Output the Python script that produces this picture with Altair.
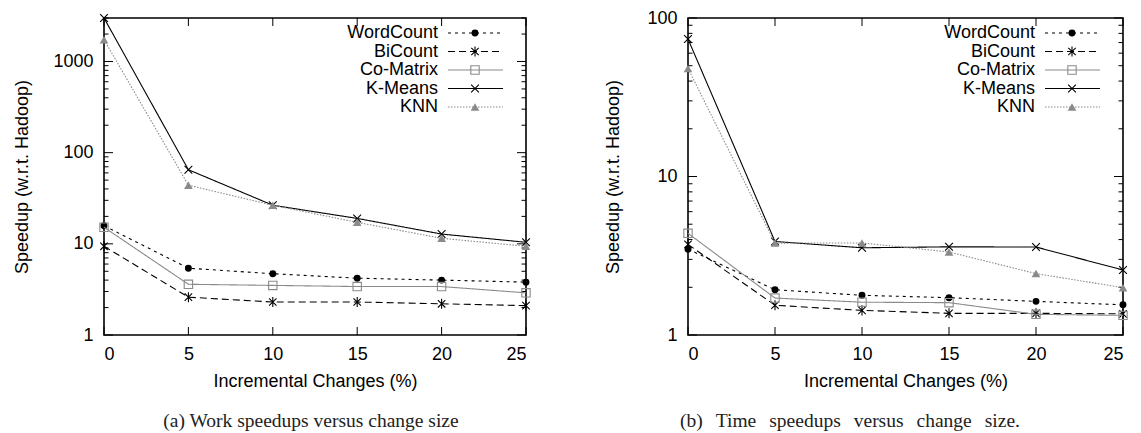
import altair as alt
import pandas as pd

# ---------------- data ----------------
x_vals = [0, 5, 10, 15, 20, 25]
series = ["WordCount", "BiCount", "Co-Matrix", "K-Means", "KNN"]

work_wordcount = [15.8, 5.4, 4.7, 4.2, 4.0, 3.8]
work_bicount = [9.4, 2.6, 2.3, 2.3, 2.2, 2.1]
work_comatrix = [15.2, 3.6, 3.5, 3.4, 3.4, 2.9]
work_kmeans = [3000, 65, 26.5, 19, 12.8, 10.4]
work_knn = [1735, 44, 26.5, 17.2, 11.5, 9.4]

time_wordcount = [3.48, 1.93, 1.78, 1.72, 1.63, 1.55]
time_bicount = [3.73, 1.54, 1.43, 1.37, 1.37, 1.36]
time_comatrix = [4.38, 1.71, 1.61, 1.60, 1.35, 1.33]
time_kmeans = [73.7, 3.89, 3.55, 3.6, 3.59, 2.57]
time_knn = [48.1, 3.8, 3.81, 3.34, 2.44, 1.99]

x_tick_labels = [0, 5, 10, 15, 20, 25]
work_major = [1, 10, 100, 1000]
work_minor = [2, 3, 4, 5, 6, 7, 8, 9, 20, 30, 40, 50, 60, 70, 80, 90,
              200, 300, 400, 500, 600, 700, 800, 900, 2000, 3000]
time_major = [1, 10, 100]
time_minor = [2, 3, 4, 5, 6, 7, 8, 9, 20, 30, 40, 50, 60, 70, 80, 90]

SP = "\u2004\u2004"
caption_a = "(a) Work speedups versus change size"
caption_b = SP.join(["(b)", "Time", "speedups", "versus", "change", "size."])
x_title = "Incremental Changes (%)"
y_title = "Speedup (w.r.t. Hadoop)"

# ---------------- styles ----------------
GRAY = "#8a8a8a"
CROSS = "M-1,-1L1,1M-1,1L1,-1"
STAR = "M-1,-1L1,1M-1,1L1,-1M0,-1.35L0,1.35"
style = {
    "WordCount": dict(color="black", dash=[3, 4], shape="circle", filled=True, size=48),
    "BiCount": dict(color="black", dash=[7, 4], shape=STAR, filled=False, size=55),
    "Co-Matrix": dict(color=GRAY, dash=[1, 0], shape="square", filled=False, size=70),
    "K-Means": dict(color="black", dash=[1, 0], shape=CROSS, filled=False, size=60),
    "KNN": dict(color=GRAY, dash=[1.5, 1.5], shape="triangle-up", filled=True, size=75),
}

FONT = "Liberation Sans"
H = 317


def panel(vals, ydomain, major, minor, width, caption, title_pad, cap_cx):
    xscale = alt.Scale(domain=[0, 25], nice=False, zero=False)
    yscale = alt.Scale(type="log", domain=ydomain, nice=False)
    xaxis = alt.Axis(title=x_title, values=x_tick_labels, format="d",
                     labelPadding=10, titlePadding=9, ticks=False,
                     domain=False, grid=False)
    yaxis = alt.Axis(title=y_title, values=major, format="d",
                     labelPadding=11, titlePadding=title_pad, ticks=False,
                     domain=False, grid=False)
    X = alt.X("x:Q", scale=xscale, axis=xaxis)
    Y = alt.Y("y:Q", scale=yscale, axis=yaxis)

    layers = []
    # inward ticks (gnuplot style)
    maj = pd.DataFrame({"y": major})
    mnr = pd.DataFrame({"y": minor})
    xt = pd.DataFrame({"x": x_tick_labels})
    for d, L in ((maj, 9), (mnr, 4.5)):
        layers.append(alt.Chart(d).mark_rule(color="black", strokeWidth=1).encode(
            y=Y, x=alt.value(0), x2=alt.value(L)))
        layers.append(alt.Chart(d).mark_rule(color="black", strokeWidth=1).encode(
            y=Y, x=alt.value(width), x2=alt.value(width - L)))
    layers.append(alt.Chart(xt).mark_rule(color="black", strokeWidth=1).encode(
        x=X, y=alt.value(H), y2=alt.value(H - 8)))
    layers.append(alt.Chart(xt).mark_rule(color="black", strokeWidth=1).encode(
        x=X, y=alt.value(0), y2=alt.value(8)))

    for s, v in zip(series, vals):
        st = style[s]
        df = pd.DataFrame({"x": x_vals, "y": v})
        layers.append(alt.Chart(df).mark_line(
            color=st["color"], strokeDash=st["dash"], strokeWidth=1.1).encode(x=X, y=Y))
        layers.append(alt.Chart(df).mark_point(
            shape=st["shape"], filled=st["filled"], size=st["size"],
            color=st["color"], strokeWidth=1.1, opacity=1).encode(x=X, y=Y))

    # legend (top right, inside)
    for i, s in enumerate(series):
        st = style[s]
        yy = 15 + 18.5 * i
        one = pd.DataFrame({"label": [s]})
        layers.append(alt.Chart(one).mark_rule(
            color=st["color"], strokeDash=st["dash"], strokeWidth=1.1).encode(
            x=alt.value(width - 78), x2=alt.value(width - 23), y=alt.value(yy)))
        layers.append(alt.Chart(one).mark_point(
            shape=st["shape"], filled=st["filled"], size=st["size"],
            color=st["color"], strokeWidth=1.1, opacity=1).encode(
            x=alt.value(width - 51), y=alt.value(yy)))
        layers.append(alt.Chart(one).mark_text(
            align="right", baseline="middle", font=FONT, fontSize=18,
            color="black").encode(
            text="label:N", x=alt.value(width - 88), y=alt.value(yy)))

    # sub-figure caption below the axis title
    cap = pd.DataFrame({"label": [caption]})
    layers.append(alt.Chart(cap).mark_text(
        align="center", baseline="middle", font="Liberation Serif",
        fontSize=19.5, color="#222").encode(
        text="label:N", x=alt.value(cap_cx), y=alt.value(H + 86)))

    return alt.layer(*layers).properties(width=width, height=H)


left = panel([work_wordcount, work_bicount, work_comatrix, work_kmeans, work_knn],
             [1, 3000], work_major, work_minor, 422, caption_a, 21, 207)
right = panel([time_wordcount, time_bicount, time_comatrix, time_kmeans, time_knn],
              [1, 100], time_major, time_minor, 435, caption_b, 24, 162)

chart = alt.hconcat(left, right, spacing=70).properties(
    padding={"left": 5, "top": 0, "right": 0, "bottom": 0}
).configure_view(stroke="black", strokeWidth=1.6).configure_axis(
    labelFont=FONT, labelFontSize=18, labelColor="black",
    titleFont=FONT, titleFontSize=18, titleFontWeight="normal", titleColor="black"
)

chart.save("out.html", embed_options={"renderer": "svg", "actions": False})
